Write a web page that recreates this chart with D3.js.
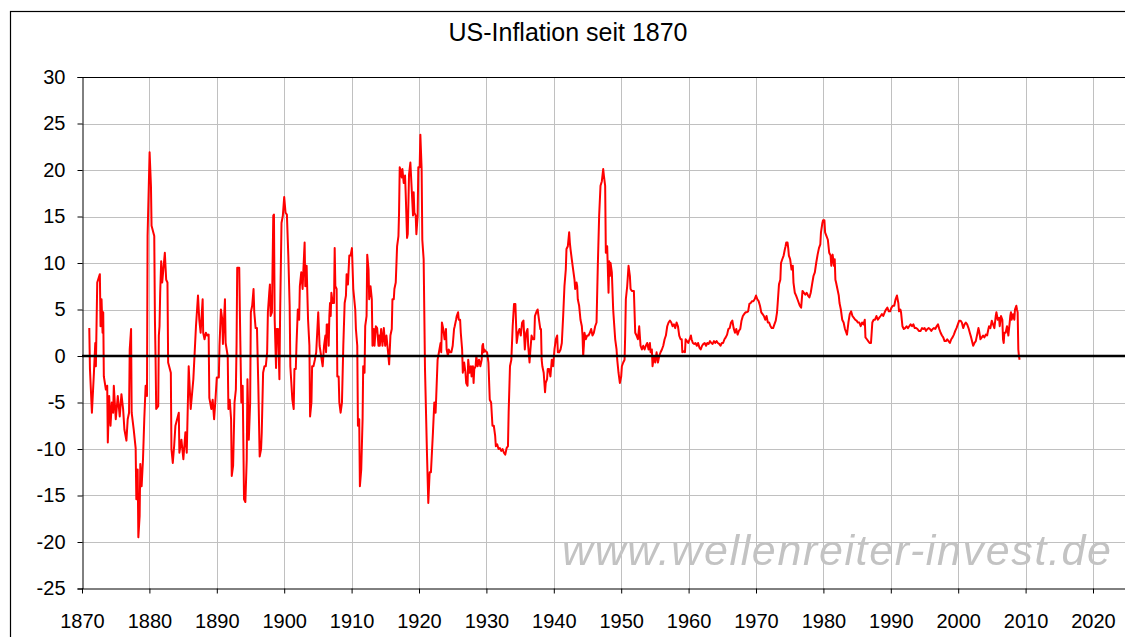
<!DOCTYPE html>
<html>
<head>
<meta charset="utf-8">
<script src="https://cdn.jsdelivr.net/npm/d3@7"></script>
<style>
  body { margin: 0; background: #fff; }
  svg { display: block; font-family: "Liberation Sans", Arial, sans-serif; }
</style>
</head>
<body>
<svg width="1125" height="637"></svg>
<script>
var title = "US-Inflation seit 1870";
var watermark = "www.wellenreiter-invest.de";

var xTicks = [1870, 1880, 1890, 1900, 1910, 1920, 1930, 1940, 1950, 1960, 1970, 1980, 1990, 2000, 2010, 2020];
var yTicks = [-25, -20, -15, -10, -5, 0, 5, 10, 15, 20, 25, 30];

// [year, inflation %]
var seg1870 = [[1871.08,3.0],[1871.18,-1.4],[1871.47,-6.1],[1871.77,-1.8],[1871.97,1.4],[1872.06,-1.1],[1872.26,7.9],[1872.65,8.8],[1872.75,3.2],[1872.9,6.1],[1873.05,2.5],[1873.15,4.7],[1873.24,-2.2],[1873.54,-3.6],[1873.74,-3.2],[1873.83,-9.3],[1874.03,-4.3],[1874.23,-7.5],[1874.42,-5.0],[1874.62,-6.1],[1874.72,-3.2],[1875.01,-6.8],[1875.31,-4.3],[1875.6,-6.5],[1875.85,-4.1],[1876.1,-5.7],[1876.29,-7.9],[1876.59,-9.1],[1876.78,-6.8],[1876.98,-6.1],[1877.08,0.7],[1877.28,2.9],[1877.37,-6.1],[1877.67,-7.9],[1877.96,-9.9],[1878.06,-15.4],[1878.26,-12.2],[1878.36,-19.5],[1878.55,-17.2],[1878.65,-11.6],[1878.85,-14.0],[1879.05,-11.1],[1879.24,-6.8],[1879.44,-3.2],[1879.64,-4.3],[1879.73,12.9],[1880.03,21.9],[1880.23,18.3],[1880.32,14.0],[1880.72,12.9],[1880.82,3.9],[1880.91,0],[1881.01,-5.7],[1881.31,-5.4],[1881.4,2.2],[1881.5,3.2],[1881.6,6.8],[1881.75,10.2],[1881.9,7.9],[1882.29,11.1],[1882.49,8.2],[1882.68,7.9],[1882.78,-0.7],[1883.18,-1.8],[1883.27,-10.0],[1883.47,-11.5],[1883.67,-9.7],[1883.86,-7.5],[1884.36,-6.1],[1884.45,-10.4],[1884.75,-9.0],[1885.04,-11.1],[1885.34,-8.2],[1885.54,-10.4],[1885.83,-1.1],[1886.13,-5.7],[1886.52,-2.5],[1886.91,3.2],[1887.21,6.5],[1887.4,3.9],[1887.6,2.5],[1887.9,6.1]];

var seg1888 = [[1887.98,2.5],[1888.18,1.8],[1888.38,2.5],[1888.59,2.2],[1888.79,2.3],[1888.89,-4.5],[1889.19,-5.7],[1889.39,-4.7],[1889.6,-6.8],[1889.8,-4.7],[1890.0,-2.3],[1890.3,-2.3],[1890.4,1.1],[1890.61,5.0],[1890.81,3.9],[1890.91,1.3],[1891.21,6.1],[1891.31,1.4],[1891.62,0],[1891.72,-5.7],[1891.92,-4.7],[1892.12,-6.8],[1892.22,-12.9],[1892.42,-11.8],[1892.63,-5.0],[1892.83,-3.6],[1892.93,1.1],[1893.03,9.5],[1893.33,9.5],[1893.43,4.3],[1893.64,-5.0],[1893.84,-3.2],[1894.04,-15.4],[1894.24,-15.7],[1894.44,-11.1],[1894.55,-2.5],[1894.75,-9.0],[1894.95,-5.0],[1895.05,4.7],[1895.25,5.4],[1895.45,7.2],[1895.56,4.7],[1895.76,3.0],[1895.96,3.0],[1896.16,-3.2],[1896.36,-10.8],[1896.57,-10.0],[1896.67,-8.2],[1896.87,-1.8],[1897.07,-1.1],[1897.27,-1.1],[1897.47,0.4],[1897.58,4.7],[1897.78,6.8],[1897.88,7.7],[1897.98,4.3],[1898.18,4.7],[1898.38,15.1],[1898.48,15.2],[1898.59,3.9],[1898.79,-1.3],[1898.89,2.9],[1899.09,2.9],[1899.29,-2.5],[1899.39,4.3],[1899.6,14.3],[1899.8,15.1],[1900.0,17.1],[1900.2,15.4],[1900.4,15.2],[1900.61,10.8],[1900.81,5.4],[1900.91,-1.1],[1901.21,-4.7],[1901.41,-5.7],[1901.52,-1.4],[1901.72,-1.4],[1901.82,1.1],[1902.02,5.0],[1902.22,3.9],[1902.32,7.5],[1902.53,9.0],[1902.73,7.2],[1902.83,9.0],[1903.03,12.2],[1903.13,7.5],[1903.33,9.7],[1903.43,6.8],[1903.54,3.9],[1903.74,1.1],[1903.84,-6.5],[1904.04,-5.0],[1904.14,-1.1],[1904.34,-1.1],[1904.55,-0.4],[1904.75,0.4],[1905.05,4.7],[1905.25,1.1]];

var seg1905 = [[1905.71,-1.1],[1905.91,1.1],[1906.11,2.2],[1906.21,0.4],[1906.31,3.4],[1906.5,3.4],[1906.6,1.1],[1906.7,4.3],[1906.8,5.7],[1906.9,4.3],[1907.0,6.8],[1907.19,5.7],[1907.39,5.7],[1907.49,11.6],[1907.59,7.5],[1907.78,7.2],[1907.88,-2.2],[1908.08,-2.2],[1908.18,-5.0],[1908.37,-6.1],[1908.57,-5.0],[1908.77,1.1],[1908.97,5.7],[1909.16,6.5],[1909.26,8.8],[1909.46,7.7],[1909.66,10.8],[1909.85,10.8],[1910.05,11.6],[1910.25,7.2],[1910.54,5.0],[1910.64,2.9],[1910.84,1.1],[1910.94,-7.5],[1911.13,-6.8],[1911.23,-14.0],[1911.43,-12.2],[1911.63,-6.8],[1911.72,-1.1],[1911.92,-1.8],[1912.02,3.2],[1912.22,4.3],[1912.32,10.9],[1912.51,9.3],[1912.61,6.1],[1912.81,7.5],[1913.0,6.1],[1913.1,1.1],[1913.3,2.9],[1913.4,1.1],[1913.6,3.2],[1913.79,3.0],[1913.99,1.1],[1914.09,2.2],[1914.19,1.1],[1914.38,2.9],[1914.58,1.1],[1914.78,3.0],[1914.98,1.1],[1915.17,2.2],[1915.37,0.7],[1915.57,-0.9],[1915.76,2.2],[1915.96,2.9],[1916.06,6.1],[1916.26,6.1],[1916.35,7.2],[1916.55,7.9],[1916.75,11.8],[1916.95,12.9],[1917.04,15.4],[1917.14,20.3],[1917.34,19.7],[1917.44,19.2],[1917.54,20.1],[1917.73,18.6],[1917.93,19.4],[1918.03,17.4],[1918.23,12.7],[1918.33,13.1],[1918.52,19.5],[1918.72,20.8],[1918.92,17.9],[1919.11,15.1],[1919.21,17.6],[1919.31,15.4],[1919.51,15.1],[1919.61,13.1],[1919.8,15.1],[1919.9,20.3],[1920.1,20.3],[1920.2,23.8],[1920.39,20.1],[1920.49,12.5],[1920.69,10.4],[1920.89,-1.4],[1921.18,-10.4],[1921.38,-15.8],[1921.58,-12.5],[1921.77,-12.5],[1922.07,-8.2],[1922.27,-5.0],[1922.46,-6.1],[1922.56,-4.3],[1922.76,-0.4],[1922.96,0.4]];

var seg1923 = [[1923.2,1.4],[1923.3,0.4],[1923.4,3.6],[1923.6,2.9],[1923.8,1.8],[1923.9,2.2],[1924.0,2.9],[1924.1,0.7],[1924.3,0],[1924.4,0.7],[1924.6,0.4],[1924.8,0.4],[1925.0,1.1],[1925.2,2.9],[1925.3,3.2],[1925.5,3.9],[1925.6,4.3],[1925.8,4.7],[1925.9,3.9],[1926.1,3.9],[1926.2,2.5],[1926.4,0.7],[1926.5,-1.8],[1926.7,-0.7],[1926.9,-1.8],[1927.0,-2.9],[1927.2,-3.2],[1927.3,-0.4],[1927.5,-1.8],[1927.7,-1.1],[1927.8,-2.2],[1928.0,-1.1],[1928.1,-2.9],[1928.2,-1.4],[1928.4,-1.1],[1928.5,0],[1928.7,-1.1],[1928.9,-0.4],[1929.1,-1.1],[1929.3,-0.4],[1929.4,1.1],[1929.5,1.3],[1929.6,0.4],[1929.7,0.7],[1929.9,0.5],[1930.1,0.4],[1930.3,-0.7],[1930.5,-4.7],[1930.7,-5.0],[1930.9,-7.5],[1931.1,-7.5],[1931.3,-8.6],[1931.4,-9.7],[1931.6,-9.5],[1931.8,-10.0],[1932.0,-9.9],[1932.2,-10.2],[1932.4,-10.0],[1932.6,-10.4],[1932.8,-10.6],[1933.0,-9.9],[1933.2,-9.7],[1933.3,-6.1],[1933.5,-1.1],[1933.7,-0.4],[1933.9,3.2],[1934.1,5.6],[1934.3,5.6],[1934.5,1.4],[1934.7,2.5],[1934.9,2.9],[1935.1,2.2],[1935.3,3.6],[1935.5,3.8],[1935.7,0.7],[1935.9,2.5],[1936.1,2.9],[1936.2,1.1],[1936.4,-0.7],[1936.5,0.4],[1936.7,2.2],[1936.9,1.8],[1937.1,1.8],[1937.2,4.3],[1937.4,4.7],[1937.6,5.0],[1937.8,3.9],[1938.0,2.9],[1938.1,2.9],[1938.2,-0.4],[1938.3,-1.1],[1938.5,-1.8],[1938.7,-3.9],[1938.8,-2.9],[1939.0,-2.5],[1939.1,-1.4],[1939.3,-1.4],[1939.5,-2.2],[1939.7,-0.4],[1939.9,-1.1],[1940.1,0.7],[1940.3,1.8],[1940.5,2.2],[1940.6,0.4],[1940.8,0.4],[1941.0,0.7]];

var seg1941 = [[1941.19,1.4],[1941.39,4.3],[1941.58,7.5],[1941.78,9.3],[1941.88,11.5],[1942.08,11.8],[1942.28,13.3],[1942.38,12.2],[1942.48,11.5],[1942.67,10.4],[1942.87,9.3],[1943.07,8.2],[1943.17,7.2],[1943.37,7.9],[1943.47,7.5],[1943.56,6.1],[1943.76,5.4],[1943.96,3.9],[1944.16,3.2],[1944.26,2.2],[1944.36,0],[1944.46,1.1],[1944.55,2.5],[1944.75,1.8],[1944.95,2.2],[1945.15,2.2],[1945.35,2.5],[1945.54,2.9],[1945.74,2.2],[1945.94,2.5],[1946.14,3.2],[1946.34,3.6],[1946.53,9.7],[1946.73,15.1],[1946.93,18.3],[1947.13,18.8],[1947.33,20.1],[1947.43,19.4],[1947.62,18.3],[1947.72,11.1],[1947.92,11.8],[1948.12,6.8],[1948.22,10.2],[1948.32,8.6],[1948.42,10.0],[1948.61,9.0],[1948.81,5.0],[1948.91,3.9],[1949.11,1.8],[1949.31,0.7],[1949.41,-0.4],[1949.6,-1.8],[1949.8,-2.9],[1950.0,-2.2],[1950.1,-1.1],[1950.3,-0.7],[1950.5,-0.4],[1950.59,2.2],[1950.69,6.1],[1950.89,7.5],[1951.09,9.7],[1951.29,8.6],[1951.39,7.2],[1951.58,7.0],[1951.88,7.0],[1952.08,2.5],[1952.28,2.2],[1952.48,1.8],[1952.67,3.2],[1952.87,1.1],[1953.07,0.7],[1953.27,1.1],[1953.47,0.7],[1953.66,1.1],[1953.86,1.4],[1954.06,0.7],[1954.26,1.4],[1954.36,0.4],[1954.55,0.7],[1954.65,-1.1],[1954.85,0],[1955.05,-0.7],[1955.25,0.4],[1955.45,-0.7],[1955.64,0],[1955.84,0.4],[1956.04,0.7],[1956.24,1.1],[1956.44,1.8],[1956.63,2.2],[1956.83,3.2],[1957.03,3.6],[1957.23,3.8],[1957.43,3.6],[1957.62,3.2],[1957.82,3.4],[1958.02,3.0],[1958.22,3.6],[1958.42,3.2],[1958.61,2.2],[1958.81,1.8]];

var seg1959 = [[1958.98,1.8],[1959.07,0.4],[1959.27,0.5],[1959.46,0.4],[1959.56,1.8],[1959.76,1.6],[1959.95,1.4],[1960.15,1.8],[1960.34,2.2],[1960.44,1.8],[1960.63,1.4],[1960.83,1.3],[1961.02,1.4],[1961.22,1.1],[1961.41,1.4],[1961.61,0.9],[1961.8,0.7],[1962.0,1.1],[1962.2,1.3],[1962.39,1.4],[1962.59,1.1],[1962.78,1.4],[1962.98,1.3],[1963.17,1.6],[1963.37,1.4],[1963.56,1.3],[1963.76,1.6],[1963.95,1.4],[1964.15,1.6],[1964.34,1.4],[1964.54,1.3],[1964.73,1.1],[1964.93,1.4],[1965.12,1.4],[1965.32,1.8],[1965.51,2.0],[1965.71,2.3],[1965.9,2.9],[1966.1,3.0],[1966.29,3.6],[1966.49,3.8],[1966.68,3.0],[1966.88,2.5],[1967.07,2.9],[1967.27,2.3],[1967.46,2.7],[1967.66,2.9],[1967.85,3.8],[1968.05,4.3],[1968.24,4.5],[1968.44,4.7],[1968.63,4.7],[1968.83,4.8],[1969.02,5.6],[1969.22,5.7],[1969.41,5.9],[1969.61,5.9],[1969.8,6.1],[1970.0,6.5],[1970.2,6.1],[1970.39,5.9],[1970.59,5.4],[1970.78,4.7],[1970.98,4.5],[1971.17,4.3],[1971.37,3.9],[1971.56,4.3],[1971.76,3.6],[1971.95,3.6],[1972.15,3.2],[1972.34,3.0],[1972.54,3.0],[1972.73,3.4],[1972.93,3.8],[1973.12,4.7],[1973.22,5.7],[1973.41,7.7],[1973.61,8.2],[1973.71,10.0],[1973.9,10.4],[1974.1,10.8],[1974.29,11.5],[1974.39,11.8],[1974.49,12.2],[1974.68,12.2],[1974.78,11.6],[1974.88,10.8],[1975.07,10.4],[1975.27,9.3],[1975.46,9.7],[1975.56,7.9],[1975.76,6.8],[1975.95,6.5],[1976.15,6.1]];

var seg1976 = [[1976.5,5.4],[1976.7,5.2],[1976.9,7.0],[1977.11,6.8],[1977.31,6.6],[1977.51,6.8],[1977.72,6.5],[1977.92,6.3],[1978.12,6.8],[1978.32,7.7],[1978.53,8.6],[1978.73,9.0],[1978.93,10.0],[1979.14,10.9],[1979.34,11.6],[1979.54,12.0],[1979.64,13.3],[1979.85,14.3],[1979.95,14.6],[1980.15,14.6],[1980.25,13.3],[1980.46,12.9],[1980.66,12.5],[1980.86,11.1],[1981.07,10.8],[1981.17,9.7],[1981.37,10.9],[1981.57,9.7],[1981.68,10.4],[1981.78,8.2],[1981.88,7.9],[1982.08,7.2],[1982.28,6.5],[1982.39,5.7],[1982.59,5.0],[1982.79,3.9],[1983.0,3.6],[1983.2,2.9],[1983.4,2.5],[1983.5,2.3],[1983.71,3.6],[1983.91,4.5],[1984.11,4.8],[1984.31,4.3],[1984.52,4.1],[1984.72,3.9],[1984.92,3.8],[1985.13,3.6],[1985.33,3.6],[1985.53,3.2],[1985.74,3.6],[1985.94,3.4],[1986.14,3.9],[1986.24,2.0],[1986.45,1.8],[1986.65,1.6],[1986.85,1.4],[1987.06,1.4],[1987.26,3.6],[1987.46,3.9],[1987.66,3.9],[1987.87,4.3],[1988.07,3.9],[1988.27,4.1],[1988.48,4.3],[1988.68,4.5],[1988.88,4.3],[1989.09,4.7],[1989.29,5.0],[1989.49,5.2],[1989.7,4.8],[1989.9,4.8],[1990.1,5.2],[1990.3,5.4],[1990.51,5.4],[1990.71,6.1],[1990.91,6.5],[1991.12,5.7],[1991.22,4.8],[1991.42,5.0],[1991.52,4.7],[1991.73,3.2],[1991.93,2.9],[1992.13,3.0],[1992.34,3.2],[1992.54,3.0],[1992.74,3.2],[1992.94,3.4],[1993.15,3.2],[1993.35,3.4],[1993.55,3.0],[1993.76,3.0],[1993.96,2.9],[1994.16,2.7]];

var seg1994 = [[1994.43,2.7],[1994.63,3.0],[1994.83,2.9],[1995.02,3.0],[1995.22,2.7],[1995.42,2.9],[1995.62,3.0],[1995.81,2.9],[1996.01,2.7],[1996.21,2.9],[1996.4,3.0],[1996.6,2.9],[1996.8,3.2],[1997.0,3.4],[1997.19,2.9],[1997.39,2.5],[1997.59,2.2],[1997.78,2.0],[1997.98,1.6],[1998.18,1.6],[1998.37,1.8],[1998.57,1.6],[1998.77,1.4],[1998.97,1.8],[1999.16,2.0],[1999.36,2.3],[1999.56,2.7],[1999.75,3.0],[1999.95,3.4],[2000.15,3.8],[2000.34,3.8],[2000.54,3.6],[2000.74,3.0],[2000.94,3.4],[2001.13,3.6],[2001.33,3.4],[2001.53,3.0],[2001.72,2.5],[2001.92,2.0],[2002.12,1.4],[2002.22,1.1],[2002.41,1.4],[2002.61,1.6],[2002.81,2.3],[2003.0,3.0],[2003.1,2.7],[2003.3,1.8],[2003.5,2.0],[2003.69,2.2],[2003.89,2.0],[2004.09,2.3],[2004.29,2.2],[2004.48,2.9],[2004.58,3.2],[2004.78,3.0],[2004.98,3.8],[2005.17,3.4],[2005.37,3.0],[2005.57,4.3],[2005.67,4.7],[2005.86,3.9],[2006.06,4.1],[2006.16,3.2],[2006.35,4.3],[2006.55,3.9],[2006.65,1.8],[2006.75,1.4],[2006.85,2.5],[2007.04,2.5],[2007.24,3.2],[2007.44,2.2],[2007.64,3.6],[2007.73,4.3],[2007.83,4.7],[2007.93,3.9],[2008.13,4.5],[2008.33,3.9],[2008.42,5.0],[2008.62,5.4],[2008.72,5.0],[2008.82,4.7],[2008.92,0.7],[2009.01,0],[2009.11,-0.4]];

var data = [].concat(seg1870, seg1888, seg1905, seg1923, seg1941, seg1959, seg1976, seg1994);

var width = 1125, height = 637;
var plotLeft = 82, plotTop = 77, plotBottom = 588.5, plotRight = 1130;

var svg = d3.select("svg");

var x = d3.scaleLinear().domain([1870, 2020]).range([plotLeft, 1093]);
var y = d3.scaleLinear().domain([-25, 30]).range([plotBottom, plotTop]);

function crisp(v) { return Math.round(v) + 0.5; }

svg.append("rect")
  .attr("width", width).attr("height", height)
  .attr("fill", "#fff");

// outer chart frame
svg.append("rect")
  .attr("x", 10.5).attr("y", 11.5)
  .attr("width", 1200).attr("height", 700)
  .attr("fill", "none")
  .attr("stroke", "#000")
  .attr("stroke-width", 1.2);

// grid
svg.append("g").selectAll("line")
  .data(xTicks.slice(1).concat([2030]))
  .enter().append("line")
    .attr("x1", function(d) { return crisp(x(d)); })
    .attr("x2", function(d) { return crisp(x(d)); })
    .attr("y1", plotTop).attr("y2", plotBottom)
    .attr("stroke", "#c0c0c0");

svg.append("g").selectAll("line")
  .data(yTicks.filter(function(d) { return d > -25 && d < 30 && d != 0; }))
  .enter().append("line")
    .attr("x1", plotLeft).attr("x2", plotRight)
    .attr("y1", function(d) { return crisp(y(d)); })
    .attr("y2", function(d) { return crisp(y(d)); })
    .attr("stroke", "#c0c0c0");

// plot area top border
svg.append("line")
  .attr("x1", plotLeft).attr("x2", plotRight)
  .attr("y1", crisp(y(30))).attr("y2", crisp(y(30)))
  .attr("stroke", "#000");

// watermark
var defs = svg.append("defs");
defs.append("filter").attr("id", "soft")
  .append("feGaussianBlur").attr("stdDeviation", 0.6);

svg.append("text")
  .attr("x", 562).attr("y", 565)
  .attr("textLength", 549)
  .attr("lengthAdjust", "spacing")
  .attr("font-size", "43px")
  .attr("font-style", "italic")
  .attr("fill", "#c3c3c3")
  .attr("filter", "url(#soft)")
  .text(watermark);

// series
var line = d3.line()
  .x(function(d) { return x(d[0]); })
  .y(function(d) { return y(d[1]); });

svg.append("path")
  .datum(data)
  .attr("d", line)
  .attr("fill", "none")
  .attr("stroke", "#ff0000")
  .attr("stroke-width", 2)
  .attr("stroke-linejoin", "round");

// zero line
svg.append("line")
  .attr("x1", plotLeft).attr("x2", plotRight)
  .attr("y1", y(0)).attr("y2", y(0))
  .attr("stroke", "#000")
  .attr("stroke-width", 2.4);

// axes
var yAxis = svg.append("g")
  .attr("transform", "translate(" + (plotLeft + 0.5) + ",0)")
  .call(d3.axisLeft(y).tickValues(yTicks).tickSize(5).tickPadding(12)
    .tickFormat(function(d) { return String(d); }));

var xAxis = svg.append("g")
  .attr("transform", "translate(0," + crisp(plotBottom - 0.5) + ")")
  .call(d3.axisBottom(x).tickValues(xTicks).tickSize(5).tickPadding(20)
    .tickFormat(function(d) { return String(d); }));

xAxis.select(".domain").attr("d", "M" + plotLeft + ",0.5H" + plotRight);

[xAxis, yAxis].forEach(function(g) {
  g.selectAll("text")
    .attr("font-family", "'Liberation Sans', Arial, sans-serif")
    .attr("font-size", "20px")
    .attr("fill", "#000");
  g.selectAll("line").attr("stroke", "#000");
  g.select(".domain").attr("stroke", "#000");
});

svg.append("text")
  .attr("x", 568).attr("y", 41)
  .attr("text-anchor", "middle")
  .attr("font-size", "25px")
  .attr("fill", "#000")
  .text(title);
</script>
</body>
</html>
